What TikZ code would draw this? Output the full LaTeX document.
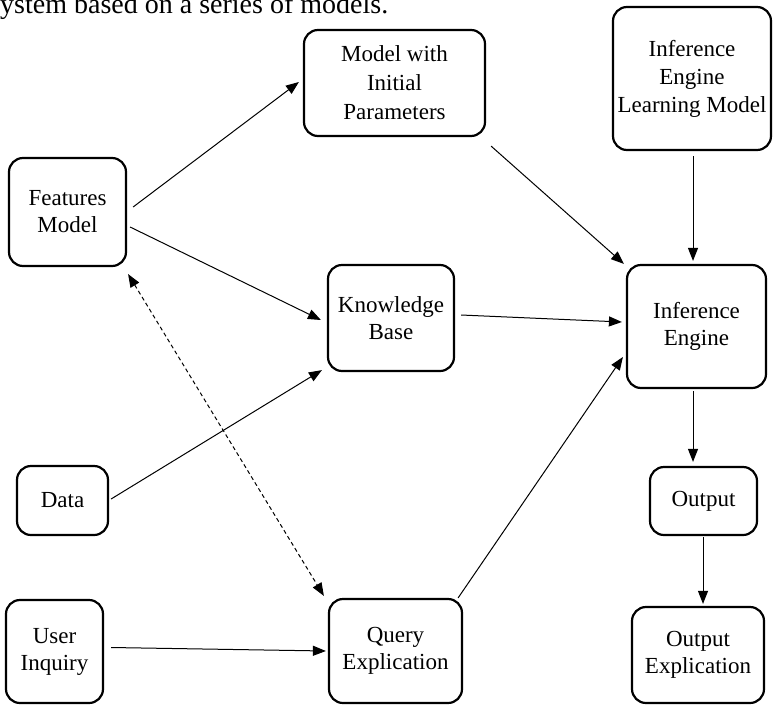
\documentclass[tikz,border=0pt]{standalone}
\usepackage{fontspec}
\setmainfont{Liberation Serif}
\usetikzlibrary{arrows.meta}
\begin{document}
\begin{tikzpicture}[x=1pt,y=-1pt,
  box/.style={draw, line width=2.2pt, rounded corners=14pt, inner sep=0pt,
    align=center, font=\fontsize{23}{27}\selectfont},
  tip/.style={Triangle[length=13pt,width=10pt]},
  link/.style={line width=1pt, -{Triangle[length=13pt,width=10pt]}},
  dlink/.style={line width=1pt, dash pattern=on 4pt off 3pt,
    {Triangle[length=13pt,width=10pt]}-{Triangle[length=13pt,width=10pt]}}]
\clip (0,0) rectangle (773,707);

% caption line running above the figure
\node[anchor=base west, inner sep=0pt, font=\fontsize{28}{34}\selectfont]
  (caption) at (0,13) {ystem based on a series of models.};

% blocks
\node[box, minimum width=117pt, minimum height=108pt] (feat)   at (67.5,212)  {Features\\Model};
\node[box, minimum width=181pt, minimum height=106pt, font=\fontsize{23}{29}\selectfont]
  (model)  at (394.5,83)  {Model with\\Initial\\Parameters};
\node[box, minimum width=158pt, minimum height=143pt, font=\fontsize{23}{28}\selectfont]
  (ielm)   at (692,78.5)  {Inference\\Engine\\Learning Model};
\node[box, minimum width=126pt, minimum height=106pt] (kb)     at (391,318)   {Knowledge\\Base};
\node[box, minimum width=139pt, minimum height=123pt] (ie)     at (696.5,326.5) {Inference\\Engine};
\node[box, minimum width=91pt,  minimum height=69pt]  (data)   at (62.5,500.5) {Data};
\node[box, minimum width=107pt, minimum height=68pt]  (out)    at (703.5,501) {Output};
\node[box, minimum width=97pt,  minimum height=103pt] (user)   at (54.5,651.5) {User\\Inquiry};
\node[box, minimum width=133pt, minimum height=104pt] (query)  at (395.5,651) {Query\\Explication};
\node[box, minimum width=132pt, minimum height=96pt]  (outexp) at (698,655)   {Output\\Explication};

% connectors
\draw[link] ([shift={(6,-5)}]feat.east) -- ([shift={(-4,-1)}]model.west);
\draw[link] ([shift={(3,15)}]feat.east) -- ([shift={(-6,2)}]kb.west);
\draw[link] ([shift={(2,-1.5)}]data.east) -- ([shift={(-5,-2)}]kb.south west);
\draw[dlink] ([shift={(1,7)}]feat.south east) -- ([shift={(-4,-2)}]query.north west);
\draw[link] ([shift={(7,-4)}]user.east) -- ([shift={(-2,0)}]query.west);
\draw[link] ([shift={(5,9)}]model.south east) -- ([shift={(-2,0)}]ie.north west);
\draw[link] ([shift={(6,-3)}]kb.east) -- ([shift={(-4,-4.5)}]ie.west);
\draw[link] ([shift={(-5,0)}]query.north east) -- ([shift={(-3,30.5)}]ie.west);
\draw[link] ([shift={(1,5)}]ielm.south) -- ([shift={(-3.5,-3)}]ie.north);
\draw[link] ([shift={(-3.5,2)}]ie.south) -- ([shift={(-10.5,-4)}]out.north);
\draw[link] ([shift={(-0.5,1)}]out.south) -- ([shift={(5,-2)}]outexp.north);
\end{tikzpicture}
\end{document}
